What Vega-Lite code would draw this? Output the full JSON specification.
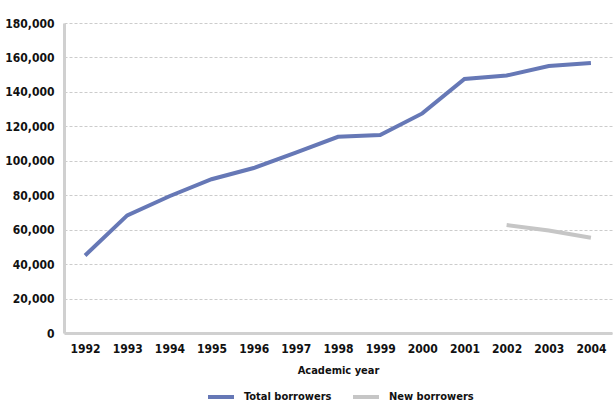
{
  "$schema": "https://vega.github.io/schema/vega-lite/v6.json",
  "width": 548,
  "height": 310,
  "autosize": "none",
  "padding": {"left": 64, "top": 23, "right": 1, "bottom": 72},
  "background": "white",
  "config": {
    "view": {"stroke": null},
    "font": "DejaVu Sans Condensed",
    "axis": {"labelFont": "DejaVu Sans Condensed", "titleFont": "DejaVu Sans Condensed"},
    "legend": {"labelFont": "DejaVu Sans Condensed"}
  },
  "data": {
    "values": [
      {"year": "1992", "series": "Total borrowers", "value": 45000},
      {"year": "1993", "series": "Total borrowers", "value": 68300},
      {"year": "1994", "series": "Total borrowers", "value": 79400},
      {"year": "1995", "series": "Total borrowers", "value": 89300},
      {"year": "1996", "series": "Total borrowers", "value": 95800},
      {"year": "1997", "series": "Total borrowers", "value": 104800},
      {"year": "1998", "series": "Total borrowers", "value": 113900},
      {"year": "1999", "series": "Total borrowers", "value": 114900},
      {"year": "2000", "series": "Total borrowers", "value": 127500},
      {"year": "2001", "series": "Total borrowers", "value": 147500},
      {"year": "2002", "series": "Total borrowers", "value": 149500},
      {"year": "2003", "series": "Total borrowers", "value": 155000},
      {"year": "2004", "series": "Total borrowers", "value": 156800},
      {"year": "2002", "series": "New borrowers", "value": 62700},
      {"year": "2003", "series": "New borrowers", "value": 59500},
      {"year": "2004", "series": "New borrowers", "value": 55300}
    ]
  },
  "mark": {"type": "line", "strokeWidth": 4},
  "encoding": {
    "x": {
      "field": "year",
      "type": "ordinal",
      "scale": {"type": "point", "padding": 0.5},
      "axis": {
        "title": "Academic year",
        "titleFontSize": 11,
        "titleFontWeight": "bold",
        "titleColor": "#111",
        "titlePadding": 10,
        "labelAngle": 0,
        "labelFontSize": 12,
        "labelFontWeight": "bold",
        "labelColor": "#111",
        "labelPadding": 10,
        "ticks": false,
        "domainColor": "#d0d0d0",
        "domainWidth": 3,
        "grid": false
      }
    },
    "y": {
      "field": "value",
      "type": "quantitative",
      "scale": {"domain": [0, 180000], "nice": false},
      "axis": {
        "title": null,
        "values": [0, 20000, 40000, 60000, 80000, 100000, 120000, 140000, 160000, 180000],
        "format": ",.0f",
        "labelFontSize": 12,
        "labelFontWeight": "bold",
        "labelColor": "#111",
        "labelPadding": 10,
        "ticks": false,
        "domainColor": "#d0d0d0",
        "domainWidth": 3,
        "gridColor": "#cccccc",
        "gridDash": [3, 2],
        "gridWidth": 1
      }
    },
    "color": {
      "field": "series",
      "type": "nominal",
      "scale": {"domain": ["Total borrowers", "New borrowers"], "range": ["#6678b6", "#c6c6c6"]},
      "legend": {
        "title": null,
        "orient": "none",
        "legendX": 142,
        "legendY": 359,
        "direction": "horizontal",
        "symbolType": "stroke",
        "symbolStrokeWidth": 4,
        "symbolSize": 676,
        "labelFontSize": 11,
        "labelFontWeight": "bold",
        "labelColor": "#111",
        "labelOffset": 8,
        "columnPadding": 13
      }
    }
  }
}
